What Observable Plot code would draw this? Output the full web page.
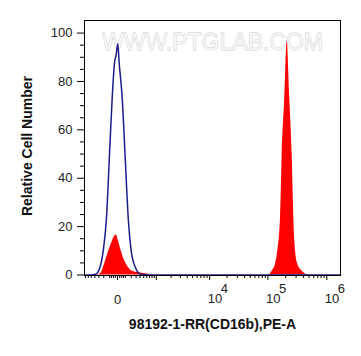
<!DOCTYPE html>
<html><head><meta charset="utf-8">
<script src="https://cdn.jsdelivr.net/npm/d3@7"></script>
<script src="https://cdn.jsdelivr.net/npm/@observablehq/plot@0.6"></script>
<style>body{margin:0;background:#fff;}</style>
</head><body><div id="chart"></div>
<script>
// Control (unstained) histogram – blue outline
const controlX = [-739, -526, -382, -280, -210, -151, -103, -65, -35, -15, 3, 19, 57, 96, 146, 199, 287, 409, 662, 1705000];
const controlY = [0, 0, 0.3, 3, 10, 23.7, 50, 73, 87.7, 91, 95.6, 87.7, 73, 50, 23.7, 10, 3, 0.3, 0, 0];
// Stained histogram – red fill
const stainedX = [-739, -382, -265, -186, -114, -74, -44, -11, 11, 44, 74, 118, 218, 357, 558, 822,
  102100, 118000, 134300, 147000, 163400, 174700, 193100, 212000, 235000, 258000, 275000, 294000, 321000, 382000, 489000, 1705000];
const stainedY = [0, 0, 0.5, 4.5, 10, 13, 15.4, 16.5, 14, 10, 7, 4.5, 1.6, 1, 0.5, 0,
  0, 1.6, 4.4, 10, 23.7, 50, 73, 96.7, 73, 50, 23.7, 10, 4.4, 1.6, 0, 0];
// Axis ticks
const xMajorTicks = [0, 1e3, 1e4, 1e5, 1e6];
const xMinorTicks = [-700, -600, -500, -400, -300, -200, -100, -75, -50, -25, 25, 50, 75, 100,
  200, 300, 400, 500, 600, 700, 800, 900,
  2e3, 3e3, 4e3, 5e3, 6e3, 7e3, 8e3, 9e3,
  2e4, 3e4, 4e4, 5e4, 6e4, 7e4, 8e4, 9e4,
  2e5, 3e5, 4e5, 5e5, 6e5, 7e5, 8e5, 9e5];
const xPowerTicks = [1e4, 1e5, 1e6];
const xPowerExponents = ["4", "5", "6"];
const xZeroLabel = ["0"];
const yTicks = [0, 20, 40, 60, 80, 100];
const yMinorTicks = [5, 10, 15, 25, 30, 35, 45, 50, 55, 65, 70, 75, 85, 90, 95];
const xTitle = "98192-1-RR(CD16b),PE-A";
const yTitle = "Relative Cell Number";
const watermark = "WWW.PTGLAB.COM";

const control = controlX.map((x, i) => ({x, y: controlY[i]}));
const stained = stainedX.map((x, i) => ({x, y: stainedY[i]}));
const powers = xPowerTicks.map((v, i) => ({v, e: xPowerExponents[i]}));

const chart = Plot.plot({
  width: 361, height: 356,
  marginLeft: 84, marginRight: 21, marginTop: 20, marginBottom: 81,
  style: {fontFamily: "'Liberation Sans', Arial, sans-serif", fontSize: "13px", color: "#222", background: "white"},
  x: {type: "symlog", constant: 281, domain: [-739, 1705000]},
  y: {domain: [-0.2, 105.2]},
  marks: [
    Plot.text([watermark], {text: d => d, frameAnchor: "top", dy: 13, fontSize: 23,
      letterSpacing: 2.8, fill: "#f6f6f6", stroke: "#c8c8c8", strokeWidth: 0.8}),
    Plot.areaY(stained, {x: "x", y: "y", fill: "#ff0000", curve: "monotone-x"}),
    Plot.lineY(control, {x: "x", y: "y", stroke: "#1c1c8c", strokeWidth: 1.5, curve: "monotone-x"}),
    Plot.frame({stroke: "black"}),
    Plot.axisY(yTicks, {tickSize: 7, tickPadding: 5, label: null, fontSize: 13, stroke: "black"}),
    Plot.axisY(yMinorTicks, {tickSize: 4, tickFormat: () => "", label: null, stroke: "black"}),
    Plot.axisX(xMajorTicks, {tickSize: 5, tickFormat: () => "", label: null, stroke: "black"}),
    Plot.axisX(xMinorTicks, {tickSize: 3, tickFormat: () => "", label: null, stroke: "black"}),
    Plot.text(xZeroLabel, {x: () => 0, text: d => d, frameAnchor: "bottom", dy: 28, lineAnchor: "bottom", fontSize: 13}),
    Plot.text(powers, {x: "v", text: () => "10", frameAnchor: "bottom", dx: -2, dy: 27, lineAnchor: "bottom", textAnchor: "start", fontSize: 13}),
    Plot.text(powers, {x: "v", text: "e", frameAnchor: "bottom", dx: 11, dy: 17, lineAnchor: "bottom", textAnchor: "start", fontSize: 13}),
    Plot.text([yTitle], {text: d => d, frameAnchor: "left", textAnchor: "middle", dx: -57, dy: -2, rotate: -90, fontWeight: "bold", fontSize: 14, fill: "#111"}),
    Plot.text([xTitle], {text: d => d, frameAnchor: "bottom", dy: 53, fontWeight: "bold", fontSize: 14, fill: "#111"})
  ]
});
document.getElementById("chart").append(chart);
</script>
</body></html>
